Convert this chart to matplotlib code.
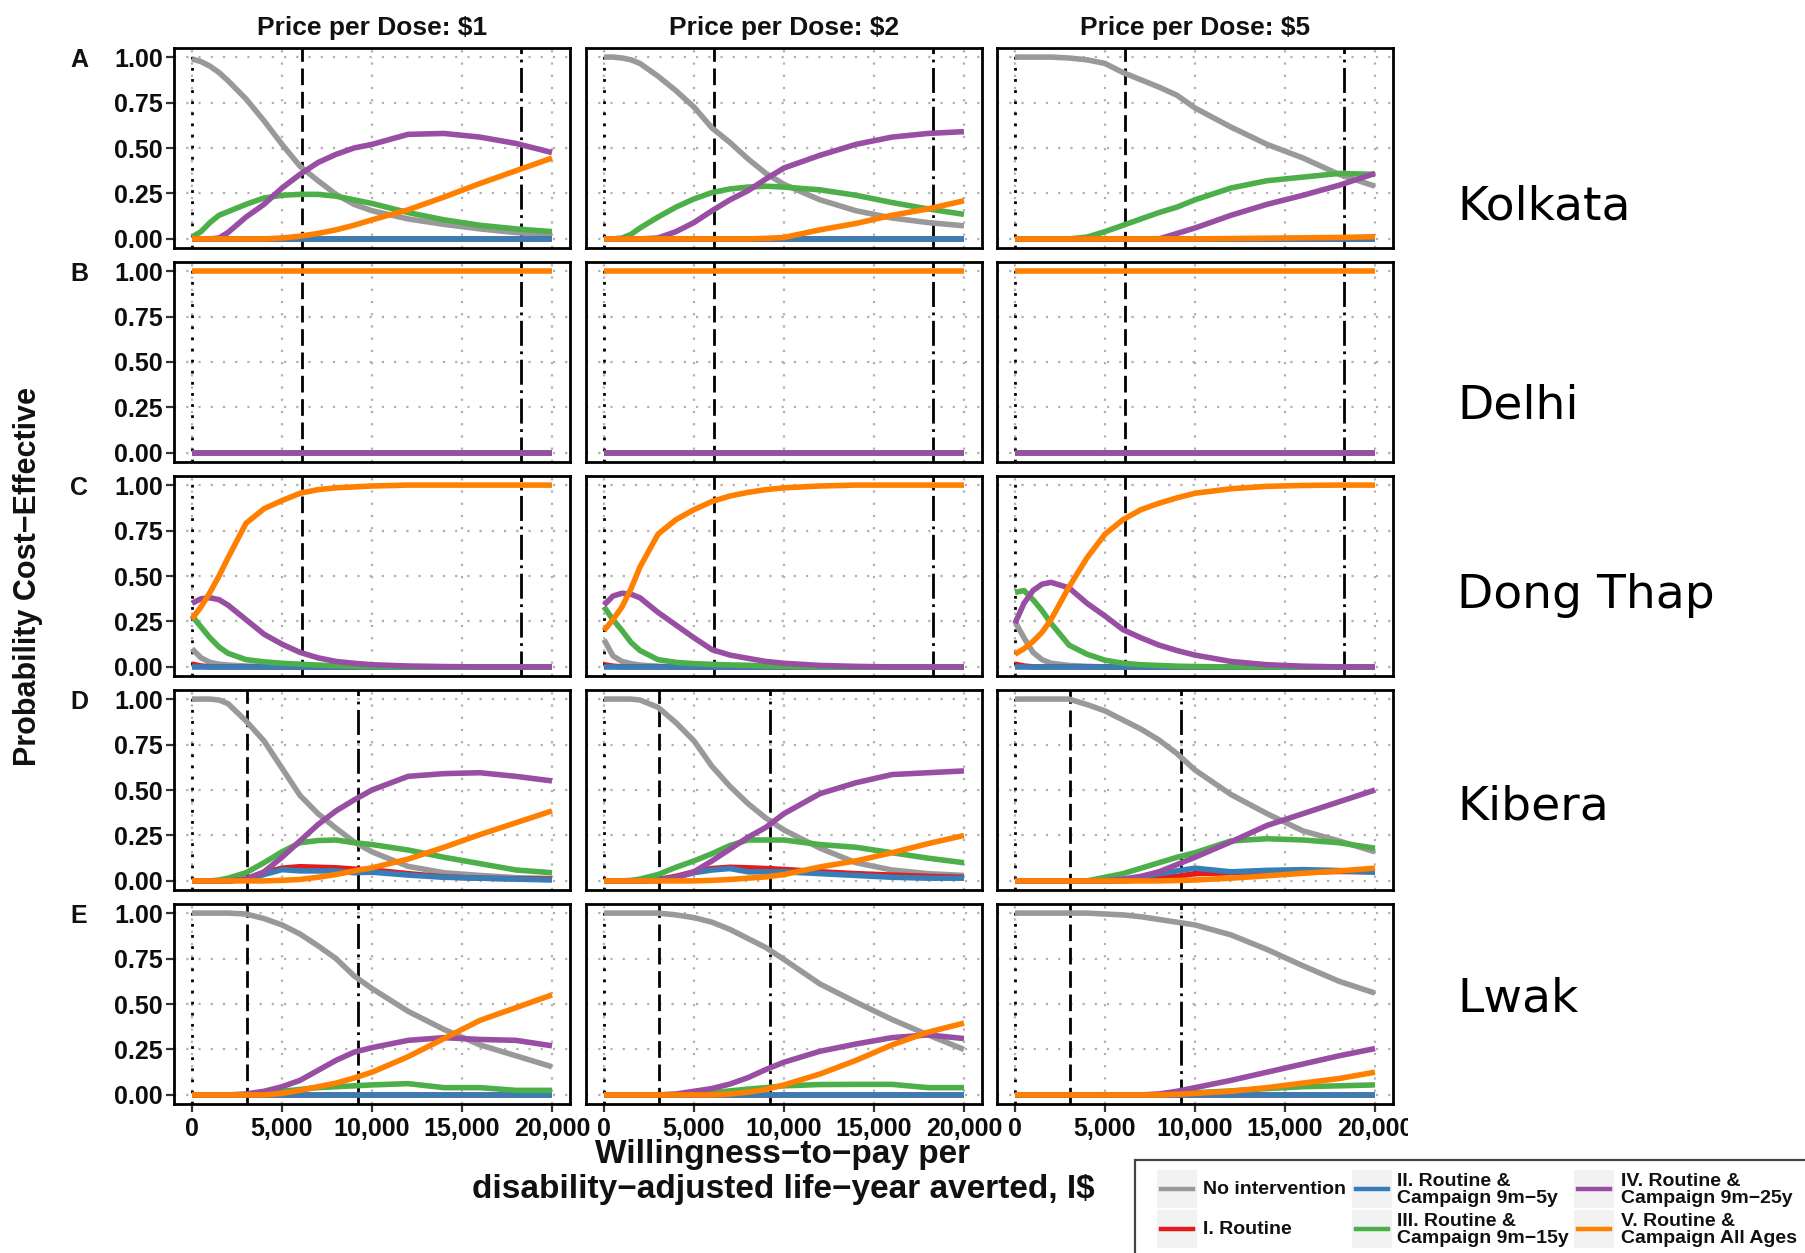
import matplotlib
matplotlib.use("Agg")
import matplotlib.pyplot as plt
from matplotlib.patches import Rectangle
from matplotlib.lines import Line2D
from matplotlib.transforms import Bbox

plt.rcParams['font.family'] = ['Liberation Sans', 'DejaVu Sans']
plt.rcParams['font.weight'] = 'bold'

# ---------------- data ----------------
XS = [0, 500, 1000, 1500, 2000, 3000, 4000, 5000, 6000, 7000, 8000, 9000,
      10000, 12000, 14000, 16000, 18000, 20000]
ZERO = [0, 0, 0, 0, 0, 0, 0, 0, 0, 0, 0, 0, 0, 0, 0, 0, 0, 0]
ONE = [1, 1, 1, 1, 1, 1, 1, 1, 1, 1, 1, 1, 1, 1, 1, 1, 1, 1]

SERIES_KEYS = ["none", "r1", "r2", "r3", "r4", "r5"]
SERIES_LABELS = ["No intervention", "I. Routine", "II. Routine &\nCampaign 9m\u22125y",
                 "III. Routine &\nCampaign 9m\u221215y", "IV. Routine &\nCampaign 9m\u221225y",
                 "V. Routine &\nCampaign All Ages"]
COLORS = ["#999999", "#E41A1C", "#377EB8", "#4DAF4A", "#984EA3", "#FF7F00"]

PRICES = ["$1", "$2", "$5"]
SITES = ["Kolkata", "Delhi", "Dong Thap", "Kibera", "Lwak"]
ROW_LETTERS = ["A", "B", "C", "D", "E"]
GDP = [6100, 6100, 6100, 3070, 3070]
GDP3 = [18300, 18300, 18300, 9210, 9210]

KOLKATA_1 = dict(
    none=[0.99, 0.975, 0.95, 0.915, 0.87, 0.77, 0.65, 0.52, 0.40, 0.32, 0.245, 0.19, 0.155, 0.11, 0.08, 0.055, 0.035, 0.02],
    r1=ZERO, r2=ZERO,
    r3=[0.01, 0.04, 0.09, 0.13, 0.15, 0.19, 0.225, 0.24, 0.245, 0.245, 0.235, 0.215, 0.195, 0.145, 0.105, 0.075, 0.055, 0.04],
    r4=[0, 0, 0, 0.005, 0.035, 0.12, 0.19, 0.28, 0.355, 0.42, 0.465, 0.50, 0.52, 0.575, 0.58, 0.56, 0.525, 0.475],
    r5=[0, 0, 0, 0, 0, 0, 0, 0.005, 0.015, 0.03, 0.05, 0.075, 0.105, 0.16, 0.23, 0.305, 0.375, 0.445])
KOLKATA_2 = dict(
    none=[1.0, 1.0, 0.995, 0.985, 0.965, 0.895, 0.815, 0.725, 0.61, 0.53, 0.44, 0.36, 0.30, 0.215, 0.155, 0.115, 0.09, 0.072],
    r1=ZERO, r2=ZERO,
    r3=[0, 0, 0.005, 0.025, 0.06, 0.12, 0.175, 0.22, 0.255, 0.275, 0.285, 0.29, 0.285, 0.27, 0.24, 0.2, 0.165, 0.135],
    r4=[0, 0, 0, 0, 0, 0.005, 0.04, 0.09, 0.155, 0.215, 0.265, 0.33, 0.39, 0.46, 0.52, 0.56, 0.58, 0.59],
    r5=[0, 0, 0, 0, 0, 0, 0, 0, 0, 0, 0, 0.003, 0.008, 0.05, 0.085, 0.13, 0.165, 0.21])
KOLKATA_5 = dict(
    none=[1, 1, 1, 1, 1, 0.995, 0.985, 0.965, 0.915, 0.875, 0.835, 0.79, 0.72, 0.615, 0.52, 0.445, 0.355, 0.29],
    r1=ZERO, r2=ZERO,
    r3=[0, 0, 0, 0, 0, 0, 0.01, 0.04, 0.075, 0.11, 0.145, 0.175, 0.215, 0.28, 0.32, 0.34, 0.36, 0.355],
    r4=[0, 0, 0, 0, 0, 0, 0, 0, 0, 0, 0, 0.03, 0.06, 0.13, 0.19, 0.24, 0.295, 0.36],
    r5=[0, 0, 0, 0, 0, 0, 0, 0, 0, 0, 0, 0, 0, 0.002, 0.004, 0.006, 0.008, 0.012])

DELHI_1 = dict(none=ZERO, r1=ZERO, r2=ZERO, r3=ZERO, r4=ZERO, r5=ONE)
DELHI_2 = dict(none=ZERO, r1=ZERO, r2=ZERO, r3=ZERO, r4=ZERO, r5=ONE)
DELHI_5 = dict(none=ZERO, r1=ZERO, r2=ZERO, r3=ZERO, r4=ZERO, r5=ONE)

DONGTHAP_1 = dict(
    none=[0.1, 0.05, 0.025, 0.015, 0.01, 0.005, 0.002, 0, 0, 0, 0, 0, 0, 0, 0, 0, 0, 0],
    r1=[0.015, 0.005, 0, 0, 0, 0, 0, 0, 0, 0, 0, 0, 0, 0, 0, 0, 0, 0],
    r2=ZERO,
    r3=[0.28, 0.22, 0.16, 0.11, 0.075, 0.04, 0.028, 0.02, 0.015, 0.01, 0.006, 0.003, 0.002, 0, 0, 0, 0, 0],
    r4=[0.35, 0.375, 0.38, 0.37, 0.34, 0.26, 0.18, 0.125, 0.08, 0.05, 0.03, 0.02, 0.012, 0.005, 0.002, 0, 0, 0],
    r5=[0.265, 0.33, 0.41, 0.5, 0.6, 0.79, 0.87, 0.915, 0.955, 0.975, 0.985, 0.99, 0.995, 1, 1, 1, 1, 1])
DONGTHAP_2 = dict(
    none=[0.15, 0.06, 0.03, 0.018, 0.01, 0.004, 0, 0, 0, 0, 0, 0, 0, 0, 0, 0, 0, 0],
    r1=[0.012, 0.004, 0, 0, 0, 0, 0, 0, 0, 0, 0, 0, 0, 0, 0, 0, 0, 0],
    r2=ZERO,
    r3=[0.33, 0.26, 0.2, 0.135, 0.09, 0.04, 0.025, 0.018, 0.014, 0.011, 0.009, 0.005, 0.003, 0, 0, 0, 0, 0],
    r4=[0.34, 0.39, 0.405, 0.4, 0.38, 0.3, 0.23, 0.16, 0.095, 0.065, 0.047, 0.03, 0.02, 0.008, 0.003, 0, 0, 0],
    r5=[0.2, 0.26, 0.33, 0.43, 0.55, 0.73, 0.81, 0.865, 0.91, 0.94, 0.96, 0.975, 0.985, 0.995, 1, 1, 1, 1])
DONGTHAP_5 = dict(
    none=[0.25, 0.16, 0.08, 0.04, 0.02, 0.008, 0.003, 0, 0, 0, 0, 0, 0, 0, 0, 0, 0, 0],
    r1=[0.015, 0.005, 0, 0, 0, 0, 0, 0, 0, 0, 0, 0, 0, 0, 0, 0, 0, 0],
    r2=ZERO,
    r3=[0.41, 0.42, 0.37, 0.31, 0.24, 0.12, 0.07, 0.037, 0.02, 0.012, 0.008, 0.004, 0.002, 0, 0, 0, 0, 0],
    r4=[0.24, 0.35, 0.42, 0.455, 0.465, 0.435, 0.35, 0.28, 0.205, 0.16, 0.12, 0.09, 0.065, 0.03, 0.012, 0.004, 0, 0],
    r5=[0.07, 0.1, 0.14, 0.19, 0.26, 0.44, 0.6, 0.73, 0.81, 0.865, 0.9, 0.93, 0.955, 0.98, 0.993, 0.998, 1, 1])

KIBERA_1 = dict(
    none=[1, 1, 1, 0.995, 0.975, 0.88, 0.77, 0.62, 0.47, 0.37, 0.29, 0.215, 0.16, 0.08, 0.045, 0.03, 0.018, 0.013],
    r1=[0, 0, 0, 0, 0, 0.01, 0.045, 0.07, 0.078, 0.075, 0.072, 0.065, 0.06, 0.04, 0.022, 0.015, 0.012, 0.01],
    r2=[0, 0, 0, 0, 0, 0.008, 0.035, 0.062, 0.055, 0.055, 0.055, 0.045, 0.048, 0.032, 0.02, 0.015, 0.01, 0.005],
    r3=[0, 0, 0, 0.005, 0.015, 0.045, 0.1, 0.16, 0.21, 0.222, 0.225, 0.21, 0.2, 0.17, 0.13, 0.095, 0.06, 0.045],
    r4=[0, 0, 0, 0, 0, 0.01, 0.05, 0.13, 0.22, 0.31, 0.385, 0.445, 0.5, 0.575, 0.59, 0.595, 0.575, 0.55],
    r5=[0, 0, 0, 0, 0, 0, 0, 0.003, 0.008, 0.02, 0.035, 0.055, 0.072, 0.12, 0.185, 0.255, 0.32, 0.385])
KIBERA_2 = dict(
    none=[1, 1, 1, 1, 0.995, 0.955, 0.87, 0.77, 0.63, 0.52, 0.425, 0.345, 0.28, 0.18, 0.1, 0.06, 0.04, 0.03],
    r1=[0, 0, 0, 0, 0, 0.008, 0.025, 0.05, 0.068, 0.075, 0.072, 0.068, 0.063, 0.05, 0.04, 0.032, 0.025, 0.02],
    r2=[0, 0, 0, 0, 0, 0.005, 0.02, 0.045, 0.06, 0.068, 0.05, 0.05, 0.05, 0.04, 0.03, 0.02, 0.015, 0.015],
    r3=[0, 0, 0, 0.003, 0.01, 0.035, 0.075, 0.11, 0.15, 0.195, 0.225, 0.225, 0.225, 0.2, 0.185, 0.155, 0.125, 0.1],
    r4=[0, 0, 0, 0, 0, 0, 0.018, 0.05, 0.11, 0.175, 0.24, 0.295, 0.37, 0.48, 0.54, 0.585, 0.595, 0.605],
    r5=[0, 0, 0, 0, 0, 0, 0, 0, 0.003, 0.008, 0.015, 0.022, 0.035, 0.077, 0.11, 0.155, 0.205, 0.25])
KIBERA_5 = dict(
    none=[1, 1, 1, 1, 1, 1, 0.97, 0.935, 0.885, 0.835, 0.775, 0.7, 0.61, 0.475, 0.37, 0.275, 0.22, 0.16],
    r1=[0, 0, 0, 0, 0, 0, 0, 0, 0, 0.005, 0.015, 0.025, 0.04, 0.045, 0.048, 0.048, 0.052, 0.05],
    r2=[0, 0, 0, 0, 0, 0, 0, 0, 0.005, 0.02, 0.04, 0.055, 0.07, 0.05, 0.058, 0.062, 0.057, 0.048],
    r3=[0, 0, 0, 0, 0, 0, 0, 0.02, 0.04, 0.07, 0.1, 0.13, 0.155, 0.22, 0.232, 0.225, 0.21, 0.18],
    r4=[0, 0, 0, 0, 0, 0, 0, 0, 0.01, 0.025, 0.05, 0.09, 0.13, 0.215, 0.305, 0.37, 0.435, 0.5],
    r5=[0, 0, 0, 0, 0, 0, 0, 0, 0, 0, 0, 0.002, 0.005, 0.015, 0.028, 0.042, 0.055, 0.07])

LWAK_1 = dict(
    none=[1, 1, 1, 1, 1, 0.995, 0.97, 0.935, 0.885, 0.82, 0.75, 0.655, 0.585, 0.46, 0.36, 0.275, 0.215, 0.155],
    r1=ZERO, r2=ZERO,
    r3=[0, 0, 0, 0, 0, 0, 0.008, 0.02, 0.03, 0.04, 0.045, 0.05, 0.055, 0.062, 0.04, 0.04, 0.025, 0.025],
    r4=[0, 0, 0, 0, 0, 0.005, 0.02, 0.045, 0.08, 0.135, 0.19, 0.235, 0.26, 0.3, 0.315, 0.305, 0.3, 0.27],
    r5=[0, 0, 0, 0, 0, 0, 0, 0.008, 0.025, 0.045, 0.065, 0.093, 0.125, 0.21, 0.31, 0.41, 0.48, 0.55])
LWAK_2 = dict(
    none=[1, 1, 1, 1, 1, 1, 0.99, 0.975, 0.95, 0.91, 0.86, 0.81, 0.745, 0.61, 0.51, 0.415, 0.33, 0.25],
    r1=ZERO, r2=ZERO,
    r3=[0, 0, 0, 0, 0, 0, 0, 0.005, 0.012, 0.022, 0.032, 0.04, 0.05, 0.057, 0.058, 0.058, 0.04, 0.04],
    r4=[0, 0, 0, 0, 0, 0, 0.005, 0.02, 0.035, 0.06, 0.095, 0.14, 0.18, 0.24, 0.28, 0.315, 0.33, 0.31],
    r5=[0, 0, 0, 0, 0, 0, 0, 0, 0, 0.005, 0.015, 0.03, 0.055, 0.115, 0.19, 0.275, 0.345, 0.395])
LWAK_5 = dict(
    none=[1, 1, 1, 1, 1, 1, 1, 0.995, 0.99, 0.98, 0.965, 0.95, 0.935, 0.88, 0.8, 0.71, 0.625, 0.56],
    r1=ZERO, r2=ZERO,
    r3=[0, 0, 0, 0, 0, 0, 0, 0, 0, 0, 0, 0.005, 0.012, 0.022, 0.035, 0.045, 0.05, 0.055],
    r4=[0, 0, 0, 0, 0, 0, 0, 0, 0, 0, 0.005, 0.02, 0.04, 0.08, 0.125, 0.17, 0.215, 0.255],
    r5=[0, 0, 0, 0, 0, 0, 0, 0, 0, 0, 0, 0.003, 0.008, 0.02, 0.04, 0.065, 0.09, 0.125])

PANELS = [
    [KOLKATA_1, KOLKATA_2, KOLKATA_5],
    [DELHI_1, DELHI_2, DELHI_5],
    [DONGTHAP_1, DONGTHAP_2, DONGTHAP_5],
    [KIBERA_1, KIBERA_2, KIBERA_5],
    [LWAK_1, LWAK_2, LWAK_5],
]

XTICKS = [0, 5000, 10000, 15000, 20000]
XTICK_LABELS = ["0", "5,000", "10,000", "15,000", "20,000"]
YTICKS = [0, 0.25, 0.5, 0.75, 1.0]
YTICK_LABELS = ["0.00", "0.25", "0.50", "0.75", "1.00"]

# ---------------- layout (pixels) ----------------
W, H = 1806, 1253
DPI = 100
COL_LEFT = [174, 586, 997]
ROW_TOP = [48, 262, 476, 690, 904]
PW, PH = 396, 200
PLOT_CLIP_RIGHT = 1408

fig = plt.figure(figsize=(W / DPI, H / DPI), dpi=DPI)
fig.patch.set_facecolor("white")

DOTTED = (0, (1, 3))
DASHED = (0, (6, 2.4))
DOTDASH = (0, (9, 2, 1, 2))

clip_bbox = Bbox.from_extents(0, 0, PLOT_CLIP_RIGHT, H)

for i, row in enumerate(PANELS):
    for j, pdata in enumerate(row):
        ax = fig.add_axes([COL_LEFT[j] / W, 1 - (ROW_TOP[i] + PH) / H, PW / W, PH / H])
        ax.set_xlim(-1000, 21000)
        ax.set_ylim(-0.05, 1.05)
        ax.set_xticks(XTICKS)
        ax.set_xticklabels(XTICK_LABELS)
        ax.set_yticks(YTICKS)
        ax.set_yticklabels(YTICK_LABELS)
        ax.grid(True, color="#b0b0b0", linestyle=(0, (1, 4.5)), linewidth=1.6)
        ax.set_axisbelow(True)
        for s in ax.spines.values():
            s.set_linewidth(2.0)
            s.set_color("black")
        ax.tick_params(axis="y", left=(j == 0), labelleft=(j == 0), length=5.5,
                       width=1.6, color="#333333", pad=2.5, labelsize=18,
                       labelcolor="#0d0d0d")
        ax.tick_params(axis="x", bottom=(i == 4), labelbottom=(i == 4), length=5.5,
                       width=1.6, color="#333333", pad=3.5, labelsize=18,
                       labelcolor="#0d0d0d")
        if i == 4 and j == 2:
            for lbl in ax.get_xticklabels():
                lbl.set_clip_box(clip_bbox)
                lbl.set_clip_on(True)
        ax.axvline(0, color="black", lw=2.0, linestyle=DOTTED, zorder=2)
        ax.axvline(GDP[i], color="black", lw=2.0, linestyle=DASHED, zorder=2)
        ax.axvline(GDP3[i], color="black", lw=2.0, linestyle=DOTDASH, zorder=2)
        for k, key in enumerate(SERIES_KEYS):
            ax.plot(XS, pdata[key], color=COLORS[k], lw=4.0, zorder=3 + k,
                    solid_capstyle="butt")
        if i == 0:
            ax.set_title("Price per Dose: " + PRICES[j], fontsize=19,
                         fontweight="bold", pad=9, color="#111111")
        if j == 0:
            fig.text(70 / W, 1 - (ROW_TOP[i] + 12) / H, ROW_LETTERS[i],
                     fontsize=18, fontweight="bold", ha="left", va="center",
                     color="#111111")

# site labels on the right
SITE_BASELINE = [219, 418, 608, 820, 1011]
for name, yb in zip(SITES, SITE_BASELINE):
    fig.text(1457 / W, 1 - yb / H, name, fontsize=34, fontweight="normal",
             family="DejaVu Sans", ha="left", va="baseline", color="black")

# axis titles
fig.text(28 / W, 1 - 576 / H, "Probability Cost\u2212Effective", rotation=90,
         fontsize=22, fontweight="bold", ha="center", va="center", color="#111111")
fig.text(783 / W, 1 - 1172 / H,
         "Willingness\u2212to\u2212pay per\ndisability\u2212adjusted life\u2212year averted, I$",
         fontsize=24, fontweight="bold", ha="center", va="center",
         linespacing=1.15, color="#111111")

# legend (drawn in a pixel-coordinate overlay)
lax = fig.add_axes([0, 0, 1, 1], zorder=10)
lax.set_xlim(0, W)
lax.set_ylim(H, 0)
lax.axis("off")
lax.add_patch(Rectangle((1135, 1160), 720, 140, facecolor="white",
                        edgecolor="#444444", lw=1.6))
KEY_X = [1157, 1352, 1574]
TEXT_X = [1203, 1397, 1621]
KEY_Y = [1170, 1210]
for k, lab in enumerate(SERIES_LABELS):
    c, r = k // 2, k % 2
    kx, ky = KEY_X[c], KEY_Y[r]
    lax.add_patch(Rectangle((kx, ky), 40, 38, facecolor="#f2f2f2", edgecolor="none"))
    lax.add_line(Line2D([kx + 4, kx + 36], [ky + 19, ky + 19], color=COLORS[k], lw=3.2))
    lax.text(TEXT_X[c], ky + 20, lab, fontsize=14, fontweight="bold",
             ha="left", va="center", linespacing=0.95, color="#111111")

fig.savefig("out.png", dpi=DPI, facecolor="white")
